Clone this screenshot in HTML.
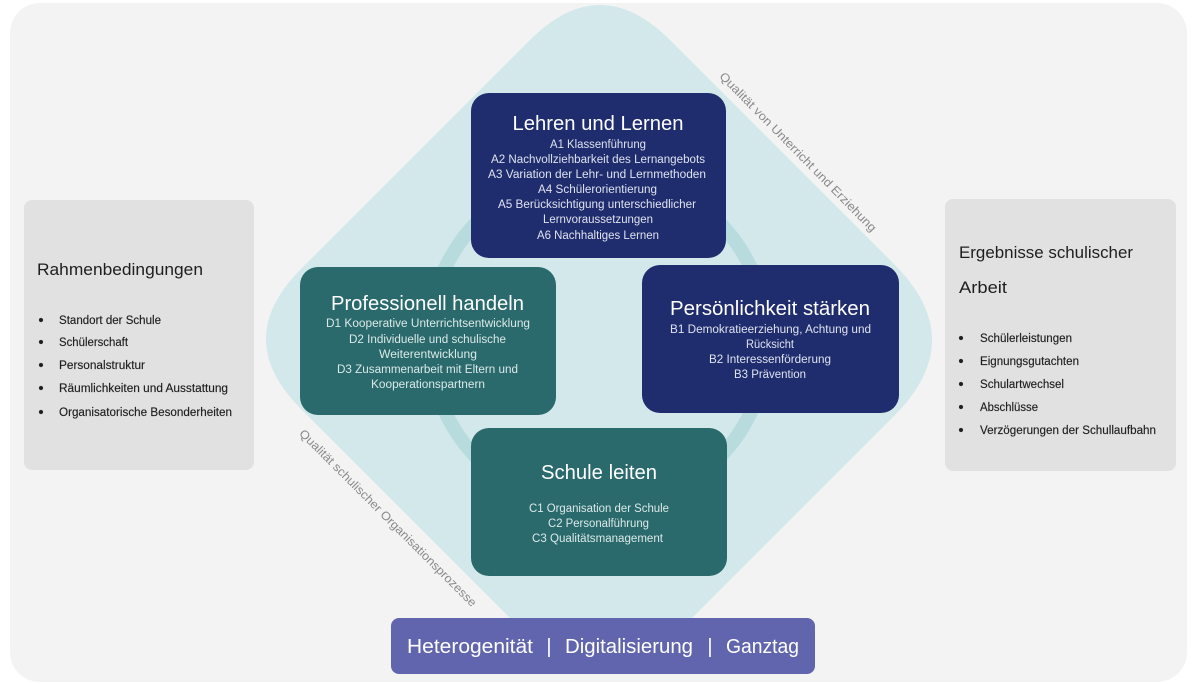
<!DOCTYPE html>
<html>
<head>
<meta charset="utf-8">
<style>
  html,body{margin:0;padding:0;background:#ffffff;}
  body{width:1200px;height:684px;overflow:hidden;}
  svg{display:block;}
  text{font-family:"Liberation Sans", Arial, sans-serif;}
</style>
</head>
<body>
<svg width="1200" height="684" viewBox="0 0 1200 684" xmlns="http://www.w3.org/2000/svg">
  <!-- outer background -->
  <rect x="0" y="0" width="1200" height="684" fill="#ffffff"/>
  <rect x="10" y="3" width="1177" height="679" rx="30" ry="30" fill="#f3f3f3"/>

  <!-- diamond -->
  <path d="M 530 40 Q 600 -30 670 40 L 894 264 Q 970 340 894 416 L 671 639 Q 601 709 531 639 L 301 409 Q 231 339 301 269 Z" fill="#d3e8ea"/>

  <!-- ring -->
  <circle cx="598" cy="340" r="169" fill="none" stroke="#b8dcdd" stroke-width="14"/>

  <!-- diagonal labels -->
  <text transform="translate(798,152) rotate(45.5)" x="0" y="4" text-anchor="middle" font-size="12" fill="#8a8a8a" textLength="218" lengthAdjust="spacingAndGlyphs">Qualität von Unterricht und Erziehung</text>
  <text transform="translate(388,518) rotate(45)" x="0" y="4" text-anchor="middle" font-size="12" fill="#8a8a8a" textLength="245" lengthAdjust="spacingAndGlyphs">Qualität schulischer Organisationsprozesse</text>

  <!-- Lehren und Lernen -->
  <rect x="471" y="93" width="255" height="165" rx="18" ry="18" fill="#1f2c6d"/>
  <g text-anchor="middle" fill="#dfe3ef" font-size="11.5">
    <text x="598" y="130" font-size="20" fill="#ffffff" textLength="171" lengthAdjust="spacingAndGlyphs">Lehren und Lernen</text>
    <text x="598" y="148" textLength="96" lengthAdjust="spacingAndGlyphs">A1 Klassenführung</text>
    <text x="598" y="163" textLength="214" lengthAdjust="spacingAndGlyphs">A2 Nachvollziehbarkeit des Lernangebots</text>
    <text x="597" y="178" textLength="218" lengthAdjust="spacingAndGlyphs">A3 Variation der Lehr- und Lernmethoden</text>
    <text x="597.5" y="193" textLength="119" lengthAdjust="spacingAndGlyphs">A4 Schülerorientierung</text>
    <text x="597" y="208" textLength="198" lengthAdjust="spacingAndGlyphs">A5 Berücksichtigung unterschiedlicher</text>
    <text x="598" y="223" textLength="110" lengthAdjust="spacingAndGlyphs">Lernvoraussetzungen</text>
    <text x="598" y="239" textLength="122" lengthAdjust="spacingAndGlyphs">A6 Nachhaltiges Lernen</text>
  </g>

  <!-- Professionell handeln -->
  <rect x="300" y="267" width="256" height="148" rx="18" ry="18" fill="#2a6a6c"/>
  <g text-anchor="middle" fill="#dbe9e9" font-size="11.5">
    <text x="427.5" y="310" font-size="20" fill="#ffffff" textLength="193" lengthAdjust="spacingAndGlyphs">Professionell handeln</text>
    <text x="428" y="327" textLength="204" lengthAdjust="spacingAndGlyphs">D1 Kooperative Unterrichtsentwicklung</text>
    <text x="427.5" y="343" textLength="157" lengthAdjust="spacingAndGlyphs">D2 Individuelle und schulische</text>
    <text x="428" y="358" textLength="98" lengthAdjust="spacingAndGlyphs">Weiterentwicklung</text>
    <text x="427.5" y="373" textLength="181" lengthAdjust="spacingAndGlyphs">D3 Zusammenarbeit mit Eltern und</text>
    <text x="428" y="388" textLength="114" lengthAdjust="spacingAndGlyphs">Kooperationspartnern</text>
  </g>

  <!-- Persönlichkeit stärken -->
  <rect x="642" y="265" width="257" height="148" rx="18" ry="18" fill="#1f2c6d"/>
  <g text-anchor="middle" fill="#dfe3ef" font-size="11.5">
    <text x="770" y="315" font-size="20" fill="#ffffff" textLength="200" lengthAdjust="spacingAndGlyphs">Persönlichkeit stärken</text>
    <text x="770.5" y="333" textLength="201" lengthAdjust="spacingAndGlyphs">B1 Demokratieerziehung, Achtung und</text>
    <text x="770" y="348" textLength="48" lengthAdjust="spacingAndGlyphs">Rücksicht</text>
    <text x="770" y="363" textLength="122" lengthAdjust="spacingAndGlyphs">B2 Interessenförderung</text>
    <text x="770" y="378" textLength="72" lengthAdjust="spacingAndGlyphs">B3 Prävention</text>
  </g>

  <!-- Schule leiten -->
  <rect x="471" y="428" width="256" height="148" rx="18" ry="18" fill="#2a6a6c"/>
  <g text-anchor="middle" fill="#dbe9e9" font-size="11.5">
    <text x="599" y="479" font-size="20" fill="#ffffff" textLength="116" lengthAdjust="spacingAndGlyphs">Schule leiten</text>
    <text x="599" y="512" textLength="140" lengthAdjust="spacingAndGlyphs">C1 Organisation der Schule</text>
    <text x="598.5" y="527" textLength="101" lengthAdjust="spacingAndGlyphs">C2 Personalführung</text>
    <text x="597.5" y="542" textLength="131" lengthAdjust="spacingAndGlyphs">C3 Qualitätsmanagement</text>
  </g>

  <!-- Bottom bar -->
  <rect x="391" y="618" width="424" height="56" rx="8" ry="8" fill="#6165ad"/>
  <g fill="#ffffff" font-size="20">
    <text x="407" y="653" textLength="126" lengthAdjust="spacingAndGlyphs">Heterogenität</text>
    <text x="549" y="653" text-anchor="middle">|</text>
    <text x="565" y="653" textLength="128" lengthAdjust="spacingAndGlyphs">Digitalisierung</text>
    <text x="710" y="653" text-anchor="middle">|</text>
    <text x="726" y="653" textLength="73" lengthAdjust="spacingAndGlyphs">Ganztag</text>
  </g>

  <!-- Left panel -->
  <rect x="24" y="200" width="230" height="270" rx="8" ry="8" fill="#e1e1e1"/>
  <g fill="#1e1e1e">
    <text x="37" y="275" font-size="17" textLength="166" lengthAdjust="spacingAndGlyphs">Rahmenbedingungen</text>
    <g font-size="11.5" stroke="#1e1e1e" stroke-width="0.15">
      <text x="41" y="325" text-anchor="middle" font-size="15">•</text>
      <text x="59" y="324" textLength="102" lengthAdjust="spacingAndGlyphs">Standort der Schule</text>
      <text x="41" y="347" text-anchor="middle" font-size="15">•</text>
      <text x="59" y="346" textLength="69" lengthAdjust="spacingAndGlyphs">Schülerschaft</text>
      <text x="41" y="370" text-anchor="middle" font-size="15">•</text>
      <text x="59" y="369" textLength="86" lengthAdjust="spacingAndGlyphs">Personalstruktur</text>
      <text x="41" y="393" text-anchor="middle" font-size="15">•</text>
      <text x="59" y="392" textLength="169" lengthAdjust="spacingAndGlyphs">Räumlichkeiten und Ausstattung</text>
      <text x="41" y="417" text-anchor="middle" font-size="15">•</text>
      <text x="59" y="416" textLength="173" lengthAdjust="spacingAndGlyphs">Organisatorische Besonderheiten</text>
    </g>
  </g>

  <!-- Right panel -->
  <rect x="945" y="199" width="231" height="272" rx="8" ry="8" fill="#e1e1e1"/>
  <g fill="#1e1e1e">
    <text x="959" y="258" font-size="17" textLength="174" lengthAdjust="spacingAndGlyphs">Ergebnisse schulischer</text>
    <text x="959" y="293" font-size="17" textLength="48" lengthAdjust="spacingAndGlyphs">Arbeit</text>
    <g font-size="11.5" stroke="#1e1e1e" stroke-width="0.15">
      <text x="961" y="343" text-anchor="middle" font-size="15">•</text>
      <text x="980" y="342" textLength="92" lengthAdjust="spacingAndGlyphs">Schülerleistungen</text>
      <text x="961" y="366" text-anchor="middle" font-size="15">•</text>
      <text x="980" y="365" textLength="99" lengthAdjust="spacingAndGlyphs">Eignungsgutachten</text>
      <text x="961" y="389" text-anchor="middle" font-size="15">•</text>
      <text x="980" y="388" textLength="84" lengthAdjust="spacingAndGlyphs">Schulartwechsel</text>
      <text x="961" y="412" text-anchor="middle" font-size="15">•</text>
      <text x="980" y="411" textLength="58" lengthAdjust="spacingAndGlyphs">Abschlüsse</text>
      <text x="961" y="435" text-anchor="middle" font-size="15">•</text>
      <text x="980" y="434" textLength="176" lengthAdjust="spacingAndGlyphs">Verzögerungen der Schullaufbahn</text>
    </g>
  </g>
</svg>
</body>
</html>
